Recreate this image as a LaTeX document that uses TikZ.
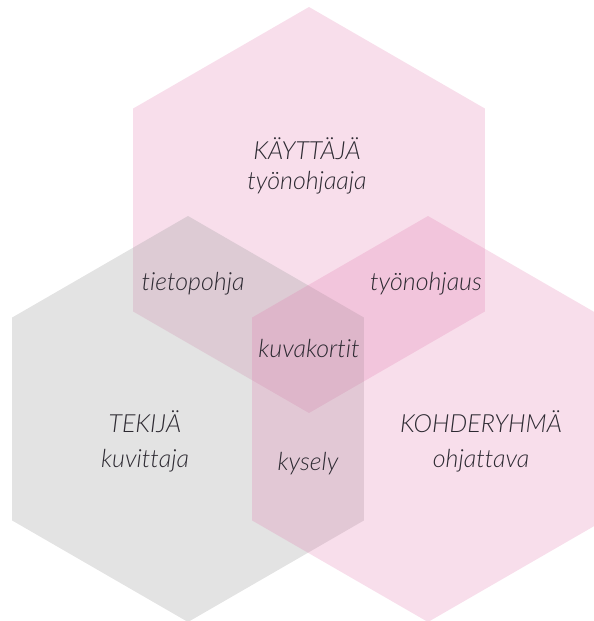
\documentclass[tikz,border=0pt]{standalone}
\usepackage{fontspec}
\newfontfamily\hexfont{Lato}[UprightFont=* Light, ItalicFont=* Light Italic,
  Ligatures=NoCommon]
\usepackage{tikz}
\definecolor{hexpink}{RGB}{225,117,171}
\definecolor{hexgray}{RGB}{150,150,150}
\definecolor{labelink}{RGB}{45,42,50}
\newcommand{\hexpatch}[3]{%
  \fill[#1] (#2) +(90:#3) -- +(150:#3) -- +(210:#3) -- +(270:#3)
        -- +(330:#3) -- +(30:#3) -- cycle;}
\tikzset{
  pinkhex/.style  = {fill=hexpink, fill opacity=0.24},
  grayhex/.style  = {fill=hexgray, fill opacity=0.27},
  hexlabel/.style = {anchor=base, inner sep=0pt, text=labelink,
                     font=\hexfont\itshape\fontsize{25}{30}\selectfont}
}

\begin{document}
\begin{tikzpicture}[x=1pt,y=-1pt]
  % --- canvas, same size as the reference ----------------------------------
  \useasboundingbox (0,0) rectangle (594,621);
  \clip (0,0) rectangle (594,621);
  % centres of the three hexagons
  \coordinate (user)   at (309,210);
  \coordinate (maker)  at (188,419);
  \coordinate (target) at (428,419);
  % the hexagons, top one first so the others lie over it
  \hexpatch{pinkhex}{user}{203}
  \hexpatch{grayhex}{maker}{203}
  \hexpatch{pinkhex}{target}{203}
  % --- the three roles ------------------------------------------------------
  \node[hexlabel] (userhead)   at (307,159) {KÄYTTÄJÄ};
  \node[hexlabel] (usersub)    at (307,189) {työnohjaaja};
  \node[hexlabel] (makerhead)  at (145,432) {TEKIJÄ};
  \node[hexlabel] (makersub)   at (145,467) {kuvittaja};
  \node[hexlabel] (targethead) at (481,432) {KOHDERYHMÄ};
  \node[hexlabel] (targetsub)  at (481,467) {ohjattava};
  % --- the overlaps -----------------------------------------------------------
  \node[hexlabel] (base)    at (193,290) {tietopohja};
  \node[hexlabel] (guide)   at (426,290) {työnohjaus};
  \node[hexlabel] (cards)   at (309,357) {kuvakortit};
  \node[hexlabel] (survey)  at (308,470) {kysely};
\end{tikzpicture}
\end{document}
